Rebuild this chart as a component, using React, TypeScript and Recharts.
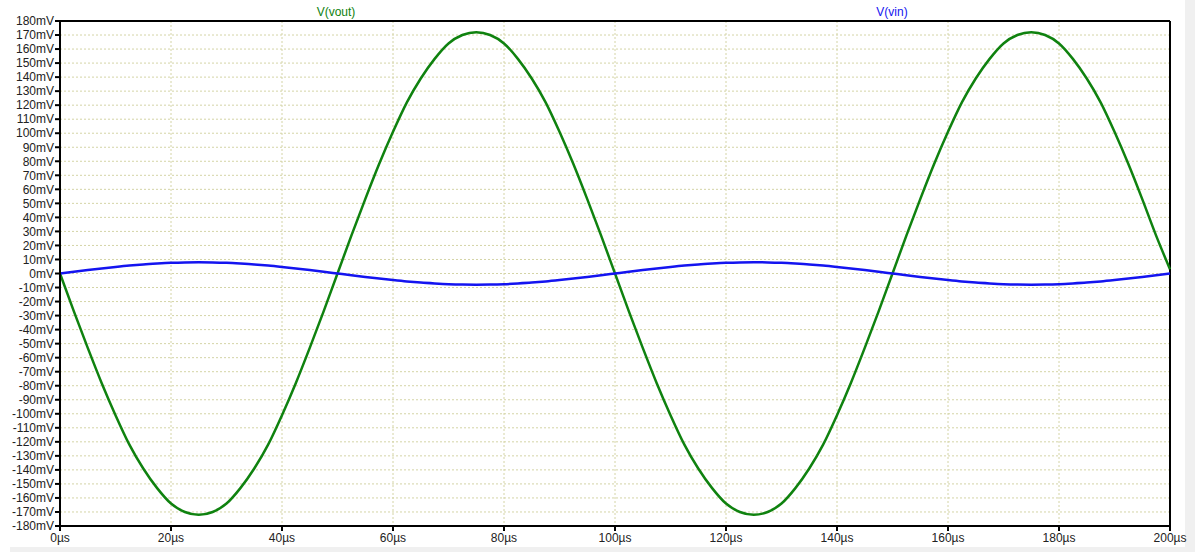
import { LineChart, Line, XAxis, YAxis, CartesianGrid, ReferenceLine } from 'recharts'

// time in µs, sampled every 2.5µs
const timeUs = [
  0, 2.5, 5, 7.5, 10, 12.5, 15, 17.5, 20, 22.5, 25, 27.5, 30, 32.5, 35, 37.5, 40, 42.5, 45, 47.5,
  50, 52.5, 55, 57.5, 60, 62.5, 65, 67.5, 70, 72.5, 75, 77.5, 80, 82.5, 85, 87.5, 90, 92.5, 95, 97.5,
  100, 102.5, 105, 107.5, 110, 112.5, 115, 117.5, 120, 122.5, 125, 127.5, 130, 132.5, 135, 137.5, 140, 142.5, 145, 147.5,
  150, 152.5, 155, 157.5, 160, 162.5, 165, 167.5, 170, 172.5, 175, 177.5, 180, 182.5, 185, 187.5, 190, 192.5, 195, 197.5,
  200,
]

// V(vout) in mV
const vout = [
  0, -27, -53, -78, -101, -122, -139, -153, -164, -170, -172, -170, -164, -153, -139, -122, -101, -78, -53, -27,
  0, 27, 53, 78, 101, 122, 139, 153, 164, 170, 172, 170, 164, 153, 139, 122, 101, 78, 53, 27,
  0, -27, -53, -78, -101, -122, -139, -153, -164, -170, -172, -170, -164, -153, -139, -122, -101, -78, -53, -27,
  0, 27, 53, 78, 101, 122, 139, 153, 164, 170, 172, 170, 164, 153, 139, 122, 101, 78, 53, 27,
  3,
]

// V(vin) in mV
const vin = [
  0, 1.3, 2.5, 3.6, 4.7, 5.7, 6.5, 7.1, 7.6, 7.9, 8, 7.9, 7.6, 7.1, 6.5, 5.7, 4.7, 3.6, 2.5, 1.3,
  0, -1.3, -2.5, -3.6, -4.7, -5.7, -6.5, -7.1, -7.6, -7.9, -8, -7.9, -7.6, -7.1, -6.5, -5.7, -4.7, -3.6, -2.5, -1.3,
  0, 1.3, 2.5, 3.6, 4.7, 5.7, 6.5, 7.1, 7.6, 7.9, 8, 7.9, 7.6, 7.1, 6.5, 5.7, 4.7, 3.6, 2.5, 1.3,
  0, -1.3, -2.5, -3.6, -4.7, -5.7, -6.5, -7.1, -7.6, -7.9, -8, -7.9, -7.6, -7.1, -6.5, -5.7, -4.7, -3.6, -2.5, -1.3,
  0,
]

const xTicks = [0, 20, 40, 60, 80, 100, 120, 140, 160, 180, 200]
const yTicks = [
  -180, -170, -160, -150, -140, -130, -120, -110, -100, -90, -80, -70, -60, -50, -40, -30, -20, -10,
  0, 10, 20, 30, 40, 50, 60, 70, 80, 90, 100, 110, 120, 130, 140, 150, 160, 170, 180,
]

const GREEN = '#0f820f'
const BLUE = '#1414f0'
const FONT = '"Liberation Sans", Arial, sans-serif'

const chartData = timeUs.map((t, i) => ({ t, vout: vout[i], vin: vin[i] }))

export default function App() {
  const tickStyle = { fontSize: 12, fill: '#222', fontFamily: FONT }
  return (
    <div style={{ position: 'absolute', left: 0, top: 0, width: 1195, height: 552, background: '#fff', overflow: 'hidden' }}>
      {/* window background showing at the right and bottom edges */}
      <div style={{ position: 'absolute', left: 1185, top: 0, width: 10, height: 552, background: '#f0f0f0' }} />
      <div style={{ position: 'absolute', left: 10, top: 547, width: 1185, height: 5, background: '#f0f0f0' }} />
      <div
        style={{
          position: 'absolute', left: 336, top: 5, transform: 'translateX(-50%)',
          color: GREEN, fontSize: 12, fontFamily: FONT, whiteSpace: 'nowrap',
        }}
      >
        V(vout)
      </div>
      <div
        style={{
          position: 'absolute', left: 892, top: 5, transform: 'translateX(-50%)',
          color: BLUE, fontSize: 12, fontFamily: FONT, whiteSpace: 'nowrap',
        }}
      >
        V(vin)
      </div>
      <LineChart
        width={1195}
        height={552}
        data={chartData}
        margin={{ top: 21, right: 25, bottom: 0, left: 0 }}
      >
        <CartesianGrid stroke="#d4d4a6" strokeDasharray="2 2" />
        <XAxis
          dataKey="t"
          type="number"
          domain={[0, 200]}
          ticks={xTicks}
          interval={0}
          height={26}
          tickSize={5}
          tickFormatter={(v) => `${v}µs`}
          tick={tickStyle}
          axisLine={{ stroke: '#000', strokeWidth: 2 }}
          tickLine={{ stroke: '#000', strokeWidth: 2 }}
        />
        <YAxis
          type="number"
          domain={[-180, 180]}
          ticks={yTicks}
          interval={0}
          width={60}
          tickSize={5}
          tickMargin={1}
          tickFormatter={(v) => `${v}mV`}
          tick={tickStyle}
          axisLine={{ stroke: '#000', strokeWidth: 2 }}
          tickLine={{ stroke: '#000', strokeWidth: 2 }}
        />
        <ReferenceLine y={180} stroke="#000" strokeWidth={2} />
        <ReferenceLine x={200} stroke="#000" strokeWidth={2} />
        <Line type="monotone" dataKey="vout" stroke={GREEN} strokeWidth={2.5} dot={false} isAnimationActive={false} />
        <Line type="monotone" dataKey="vin" stroke={BLUE} strokeWidth={2.5} dot={false} isAnimationActive={false} />
      </LineChart>
    </div>
  )
}
